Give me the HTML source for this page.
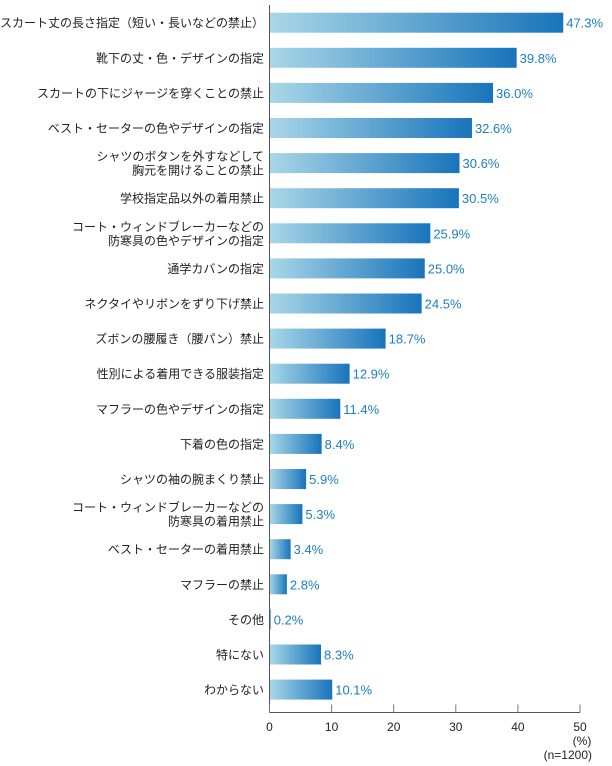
<!DOCTYPE html>
<html><head><meta charset="utf-8"><style>
body{margin:0;background:#fff;}
svg{display:block;font-family:"Liberation Sans","Noto Sans CJK JP",sans-serif;}
</style></head><body>
<svg width="612" height="766" viewBox="0 0 612 766">
<defs><linearGradient id="g" x1="0" x2="1" y1="0" y2="0"><stop offset="0" stop-color="#a9d7e8"/><stop offset="1" stop-color="#1874bb"/></linearGradient></defs>
<g id="bars"></g>
<g id="axis"></g>
</svg>
<script>
const categories=[["スカート丈の長さ指定（短い・長いなどの禁止）"],["靴下の丈・色・デザインの指定"],["スカートの下にジャージを穿くことの禁止"],["ベスト・セーターの色やデザインの指定"],["シャツのボタンを外すなどして","胸元を開けることの禁止"],["学校指定品以外の着用禁止"],["コート・ウィンドブレーカーなどの","防寒具の色やデザインの指定"],["通学カバンの指定"],["ネクタイやリボンをずり下げ禁止"],["ズボンの腰履き（腰パン）禁止"],["性別による着用できる服装指定"],["マフラーの色やデザインの指定"],["下着の色の指定"],["シャツの袖の腕まくり禁止"],["コート・ウィンドブレーカーなどの","防寒具の着用禁止"],["ベスト・セーターの着用禁止"],["マフラーの禁止"],["その他"],["特にない"],["わからない"]];
const values=[47.3,39.8,36.0,32.6,30.6,30.5,25.9,25.0,24.5,18.7,12.9,11.4,8.4,5.9,5.3,3.4,2.8,0.2,8.3,10.1];
const ticks=[0,10,20,30,40,50];
const NS="http://www.w3.org/2000/svg";
const x0=269.5,pxPer=6.21,y0=22.7,step=35.1,bh=20,axisY=712.5;
const xs=v=>x0+v*pxPer, ys=i=>y0+i*step;
function mk(t,a,p){const e=document.createElementNS(NS,t);for(const k in a)e.setAttribute(k,a[k]);p.appendChild(e);return e;}
const gb=document.getElementById('bars'),ga=document.getElementById('axis');
values.forEach((v,i)=>{
 const cy=ys(i);
 const r=mk('rect',{x:x0,y:cy-bh/2,width:Math.max(xs(v)-x0,0.8),height:bh,fill:'url(#g)'},gb);
 
 
 const t=mk('text',{x:xs(v)+3,y:cy+5,'font-size':13,fill:'#1a7fc4'},gb);
 t.textContent=v.toFixed(1)+'%';
 
 
 const lines=categories[i];
 const l=mk('text',{x:264,y:cy+4.5-(lines.length-1)*7,'font-size':12,fill:'#222','text-anchor':'end'},gb);
 
 
 lines.forEach((s,k)=>{const ts=mk('tspan',{x:264,dy:k?14:0},l);ts.textContent=s;});
});
let e=mk('line',{x1:x0,x2:x0,y1:5,y2:axisY,stroke:'#555','stroke-width':1},ga);

e=mk('line',{x1:x0,x2:xs(50),y1:axisY,y2:axisY,stroke:'#555','stroke-width':1},ga);

ticks.forEach(v=>{
 const tk=mk('line',{x1:xs(v),x2:xs(v),y1:axisY-8,y2:axisY,stroke:'#777','stroke-width':1},ga);
 
 const t=mk('text',{x:xs(v),y:731,'font-size':12,fill:'#222','text-anchor':'middle'},ga);
 t.textContent=v;
});
e=mk('text',{x:582,y:745,'font-size':12,fill:'#222','text-anchor':'middle'},ga);e.textContent='(%)';

e=mk('text',{x:592,y:759,'font-size':12,fill:'#222','text-anchor':'end'},ga);e.textContent='(n=1200)';

</script>
</body></html>
